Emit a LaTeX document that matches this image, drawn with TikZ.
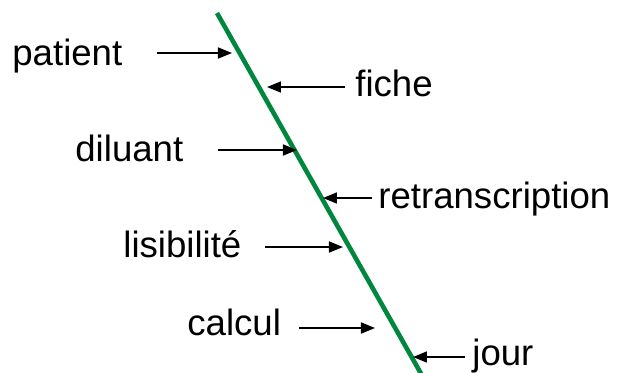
\documentclass[tikz,border=0pt]{standalone}
\usepackage{fontspec}
\setmainfont{Liberation Sans}
\usepackage{xcolor}
\usetikzlibrary{arrows.meta,calc}
\definecolor{spineGreen}{RGB}{0,135,62}
\tikzset{
  lbl/.style={anchor=base west,inner sep=0pt,font=\fontsize{18.3}{22}\selectfont},
  causeArrow/.style={-{Triangle[length=7pt,width=5.5pt]},line width=0.85pt,black},
  spine/.style={spineGreen,line width=2.3pt}
}

\begin{document}
\begin{tikzpicture}[x=0.5pt,y=-0.5pt]
\useasboundingbox (0,0) rectangle (618,372);
% the green spine
\coordinate (spineTop) at (217,13);
\coordinate (spineBot) at (423.5,378);
\draw[spine] (spineTop)--(spineBot);
% causes on the left
\node[lbl] (patient) at (12,65) {patient};
\coordinate (patientTip) at (232,53);
\draw[causeArrow] ([xshift=17pt]patient.east |- patientTip)--(patientTip);
\node[lbl] (diluant) at (75,161) {diluant};
\coordinate (diluantTip) at (297,150);
\draw[causeArrow] ([xshift=17pt]diluant.east |- diluantTip)--(diluantTip);
\node[lbl] (lisibilite) at (123,257) {lisibilité};
\coordinate (lisibiliteTip) at (343,247);
\draw[causeArrow] ([xshift=11.5pt]lisibilite.east |- lisibiliteTip)--(lisibiliteTip);
\node[lbl] (calcul) at (187,335) {calcul};
\coordinate (calculTip) at (375,328);
\draw[causeArrow] ([xshift=9pt]calcul.east |- calculTip)--(calculTip);
% causes on the right
\node[lbl] (fiche) at (355,96) {fiche};
\coordinate (ficheTip) at (267,87);
\draw[causeArrow] ([xshift=-5pt]fiche.west |- ficheTip)--(ficheTip);
\node[lbl] (retranscription) at (378,208) {retranscription};
\coordinate (retranscriptionTip) at (323,198);
\draw[causeArrow] ([xshift=-3pt]retranscription.west |- retranscriptionTip)--(retranscriptionTip);
\node[lbl] (jour) at (472,365) {jour};
\coordinate (jourTip) at (413,357);
\draw[causeArrow] ([xshift=-3.5pt]jour.west |- jourTip)--(jourTip);
\end{tikzpicture}
\end{document}
